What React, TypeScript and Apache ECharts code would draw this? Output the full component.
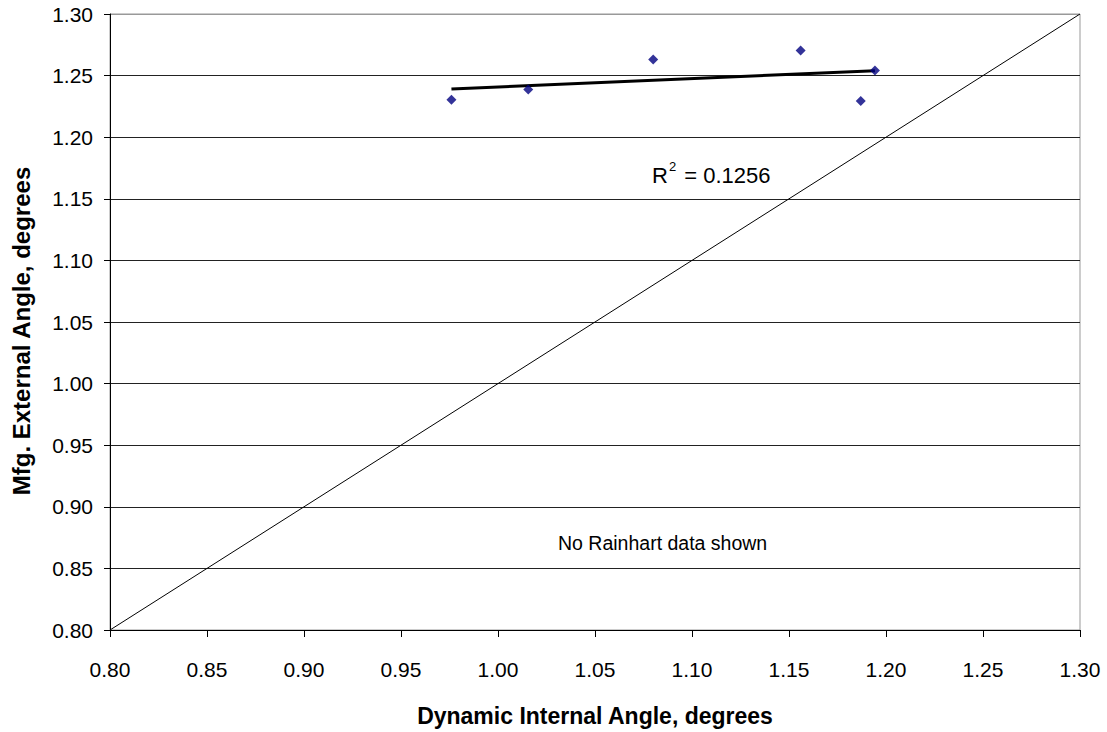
import React, { useEffect, useRef } from "react";
import * as echarts from "echarts";

const xValues = [0.976, 1.0156, 1.08, 1.156, 1.1943, 1.187];
const yValues = [1.2304, 1.2388, 1.263, 1.2703, 1.2541, 1.2294];
const axisMin = 0.8;
const axisMax = 1.3;
const axisStep = 0.05;
const r2Label = "0.1256";
const noteText = "No Rainhart data shown";
const xTitle = "Dynamic Internal Angle, degrees";
const yTitle = "Mfg. External Angle, degrees";

function regression(xs: number[], ys: number[]) {
  const n = xs.length;
  const mx = xs.reduce((a, b) => a + b, 0) / n;
  const my = ys.reduce((a, b) => a + b, 0) / n;
  let sxy = 0, sxx = 0;
  for (let i = 0; i < n; i++) {
    sxy += (xs[i] - mx) * (ys[i] - my);
    sxx += (xs[i] - mx) * (xs[i] - mx);
  }
  const slope = sxy / sxx;
  return { slope, intercept: my - slope * mx };
}

export default function App() {
  const ref = useRef<HTMLDivElement>(null);
  useEffect(() => {
    document.body.style.margin = "0";
    const chart = echarts.init(ref.current!, undefined, { renderer: "svg" });
    const { slope, intercept } = regression(xValues, yValues);
    const xMinD = Math.min(...xValues);
    const xMaxD = Math.max(...xValues);
    const trend = [
      [xMinD, intercept + slope * xMinD],
      [xMaxD, intercept + slope * xMaxD],
    ];
    const font = "Liberation Sans, Arial, sans-serif";
    const splitColors = Array.from({ length: 11 }, (_, i) => (i === 10 ? "#999999" : "#222222"));
    chart.setOption({
      animation: false,
      backgroundColor: "#ffffff",
      grid: {
        left: 110,
        top: 14,
        right: 27,
        bottom: 100,
        show: true,
        borderColor: "#999999",
        borderWidth: 1,
        backgroundColor: "transparent",
      },
      xAxis: {
        type: "value",
        min: axisMin,
        max: axisMax,
        interval: axisStep,
        name: xTitle,
        nameLocation: "middle",
        nameGap: 74,
        nameTextStyle: { fontFamily: font, fontSize: 23, fontWeight: "bold", color: "#000" },
        axisLine: { show: true, onZero: false, lineStyle: { color: "#000", width: 1 } },
        axisTick: { show: true, inside: false, length: 7, lineStyle: { color: "#000" } },
        axisLabel: {
          margin: 29,
          fontFamily: font,
          fontSize: 21,
          color: "#000",
          formatter: (v: number) => v.toFixed(2),
        },
        splitLine: { show: false },
      },
      yAxis: {
        type: "value",
        min: axisMin,
        max: axisMax,
        interval: axisStep,
        axisLine: { show: true, onZero: false, lineStyle: { color: "#000", width: 1 } },
        axisTick: { show: true, inside: false, length: 6, lineStyle: { color: "#000" } },
        axisLabel: {
          margin: 17,
          fontFamily: font,
          fontSize: 21,
          color: "#000",
          formatter: (v: number) => v.toFixed(2),
        },
        splitLine: { show: true, lineStyle: { color: splitColors, width: 1 } },
      },
      series: [
        {
          type: "line",
          data: [[axisMin, axisMin], [axisMax, axisMax]],
          showSymbol: false,
          symbol: "none",
          lineStyle: { color: "#000", width: 1 },
          silent: true,
          z: 2,
        },
        {
          type: "line",
          data: trend,
          showSymbol: false,
          symbol: "none",
          lineStyle: { color: "#000", width: 3 },
          silent: true,
          z: 3,
        },
        {
          type: "scatter",
          data: xValues.map((x, i) => [x, yValues[i]]),
          symbol: "diamond",
          symbolSize: 10,
          itemStyle: { color: "#000080" },
          z: 4,
        },
      ],
      graphic: [
        {
          type: "text",
          x: 21,
          y: 331,
          rotation: Math.PI / 2,
          style: {
            text: yTitle,
            fontFamily: font,
            fontSize: 24,
            fontWeight: "bold",
            fill: "#000",
            align: "center",
            verticalAlign: "middle",
          },
        },
        {
          type: "text",
          left: 652,
          top: 160,
          style: {
            text: "{b|R}{s|2}{b| = " + r2Label + "}",
            rich: {
              b: { fontFamily: font, fontSize: 22, fill: "#000", verticalAlign: "bottom", lineHeight: 26 },
              s: { fontFamily: font, fontSize: 13, fill: "#000", verticalAlign: "top", lineHeight: 26, padding: [0, 2, 0, 1] },
            },
          },
        },
        {
          type: "text",
          left: 558,
          top: 533,
          style: { text: noteText, fontFamily: font, fontSize: 19.5, fill: "#000" },
        },
      ],
    });
    return () => chart.dispose();
  }, []);
  return <div ref={ref} style={{ width: 1107, height: 732 }} />;
}
